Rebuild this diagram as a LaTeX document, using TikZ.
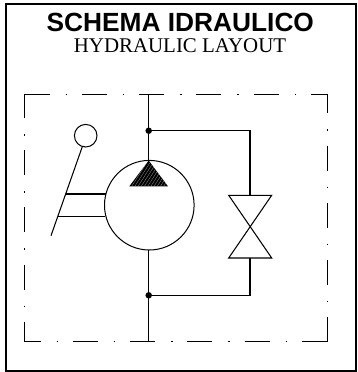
\documentclass[tikz,border=0pt]{standalone}
\usepackage{fontspec}
\setmainfont{Liberation Serif}
\newfontfamily\headfont{Liberation Sans}
\tikzset{
  x=1pt,y=-1pt,
  pipe/.style={draw=black,line width=1.05pt},
  frameline/.style={draw=black,line width=2pt},
  dashdot/.style={draw=black,line width=1.05pt,dash pattern=on 25pt off 16pt on 1.5pt off 14.7pt},
  junction/.style={circle,fill=black,inner sep=0pt,minimum size=6.5pt},
  ring/.style={circle,draw=black,line width=1pt,inner sep=0pt,fill=white},
  titletext/.style={font=\headfont\bfseries\fontsize{26.3}{26.3}\selectfont,anchor=base,inner sep=0pt},
  subtext/.style={font=\fontsize{20.9}{20.9}\selectfont,anchor=base,inner sep=0pt},
}
\begin{document}
\begin{tikzpicture}
\useasboundingbox (0,0) rectangle (358,372);
\fill[white] (0,0) rectangle (358,372);
\draw[frameline] (5.5,4) rectangle (355.5,370.5);
\node[titletext] (title) at (180.3,31.7) {SCHEMA IDRAULICO};
\node[subtext] (sub) at (180,52.7) {HYDRAULIC LAYOUT};
% dash-dot enclosure
\coordinate (tl) at (24.7,94.3);
\coordinate (tr) at (327.3,94.3);
\coordinate (bl) at (24.7,341.7);
\coordinate (br) at (327.3,341.7);
\draw[dashdot,dash phase=0pt] (tl) -- (tr);
\draw[dashdot,dash phase=6pt] (tr) -- (br);
\draw[dashdot,dash phase=9pt] (bl) -- (br);
\draw[dashdot,dash phase=1.3pt] (tl) -- (bl);
% hydraulic lines
\coordinate (ptop) at (148.7,94.3);
\coordinate (pbot) at (148.7,341.7);
\node[ring,minimum size=89.6pt] (pump) at (149.3,205.2) {};
\node[junction] (j1) at (148.7,130.7) {};
\node[junction] (j2) at (148.7,295.3) {};
\draw[pipe] (ptop) -- (148.7,160.4);
\draw[pipe] (148.7,250) -- (pbot);
% triangle
\coordinate (apex) at (148.7,160.5);
\coordinate (tleft) at (129.3,186.3);
\coordinate (tright) at (168,186.3);
\fill[black] (apex) -- (tleft) -- (tright) -- cycle;
\begin{scope}
\clip (apex) -- (tleft) -- (tright) -- cycle;
\foreach \k in {0,3.2,...,45} {
  \draw[gray!70,line width=0.25pt] (128+\k,187) -- (146+\k,159);
}
\end{scope}
% valve
\coordinate (v1) at (228.7,195.3);
\coordinate (v2) at (271.7,195.3);
\coordinate (v3) at (228.7,258);
\coordinate (v4) at (271.7,258);
\coordinate (vt) at (250,195.3);
\coordinate (vb) at (250,258);
\draw[pipe,line join=miter] (v1) -- (v2) -- (v3) -- (v4) -- cycle;
\draw[pipe,line join=miter] (j1.center) -| (vt);
\draw[pipe,line join=miter] (j2.center) -| (vb);
% lever
\node[ring,minimum size=22.6pt] (knob) at (85.7,135.7) {};
\coordinate (lstart) at (82.3,146.7);
\coordinate (lend) at (51,235.7);
\draw[pipe] (lstart) -- (lend);
\coordinate (r1a) at (65.7,194);
\coordinate (r1b) at (105.6,194);
\coordinate (r2a) at (57.7,216.7);
\coordinate (r2b) at (105,216.7);
\draw[pipe] (r1a) -- (r1b);
\draw[pipe] (r2a) -- (r2b);
\end{tikzpicture}
\end{document}
